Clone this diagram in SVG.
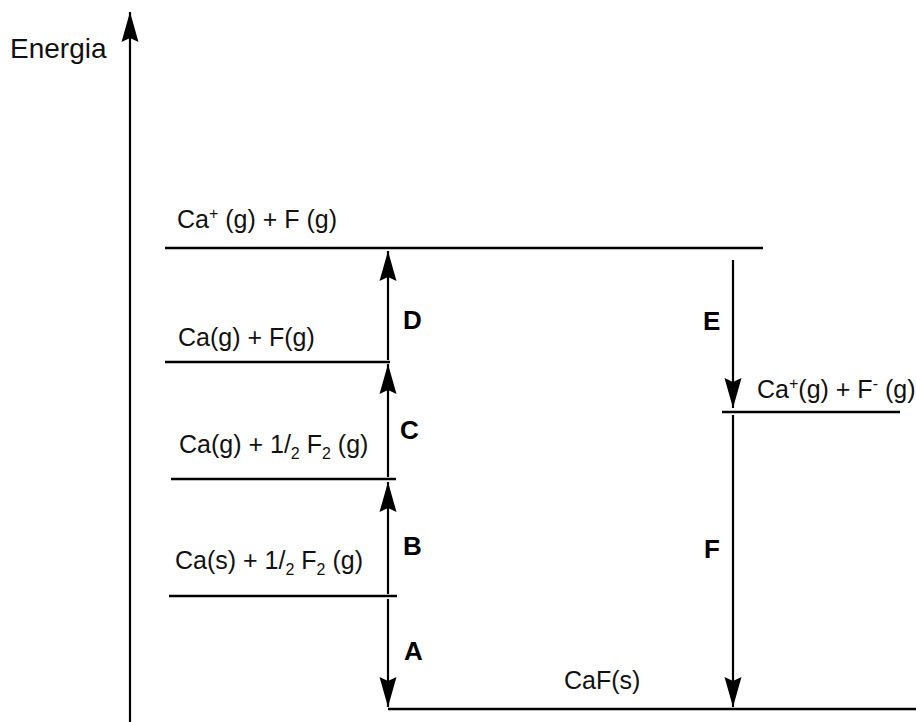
<svg xmlns="http://www.w3.org/2000/svg" width="916" height="722" viewBox="0 0 916 722">
<style>
  .lvl { stroke: #000; stroke-width: 2.6; fill: none; }
  .arr { stroke: #000; stroke-width: 2.2; fill: none; }
  .t { font-family: "Liberation Sans", Arial, sans-serif; font-size: 25px; fill: #111; }
  .b { font-family: "Liberation Sans", Arial, sans-serif; font-size: 26px; font-weight: bold; fill: #000; }
  .sm { font-size: 16px; }
</style>
<defs>
  <marker id="ah" markerUnits="userSpaceOnUse" markerWidth="32" markerHeight="20" viewBox="-31 -10 32 20" refX="0" refY="0" orient="auto">
    <path d="M0,0 L-30,-8.5 L-26,0 L-30,8.5 Z" fill="#000"/>
  </marker>
</defs>
<rect width="916" height="722" fill="#fff"/>

<g id="axis">
  <line class="arr" x1="130" y1="722" x2="130" y2="12" stroke-width="2.6" marker-end="url(#ah)"/>
  <text class="t" x="10" y="58" style="font-size:28px">Energia</text>
</g>

<g id="level-ca-plus-f">
  <line class="lvl" x1="165" y1="248" x2="763" y2="248"/>
  <text class="t" x="177" y="228">Ca<tspan class="sm" dy="-9">+</tspan><tspan dy="9"> (g) + F (g)</tspan></text>
</g>
<g id="level-ca-g-f-g">
  <line class="lvl" x1="165" y1="362" x2="390" y2="362"/>
  <text class="t" x="178" y="346">Ca(g) + F(g)</text>
</g>
<g id="level-ca-g-half-f2">
  <line class="lvl" x1="171" y1="479" x2="396" y2="479"/>
  <text class="t" x="179" y="453">Ca(g) + 1/<tspan class="sm" dy="6">2</tspan><tspan dy="-6"> F</tspan><tspan class="sm" dy="6">2</tspan><tspan dy="-6"> (g)</tspan></text>
</g>
<g id="level-ca-s-half-f2">
  <line class="lvl" x1="169" y1="596" x2="397" y2="596"/>
  <text class="t" x="175" y="569">Ca(s) + 1/<tspan class="sm" dy="6">2</tspan><tspan dy="-6"> F</tspan><tspan class="sm" dy="6">2</tspan><tspan dy="-6"> (g)</tspan></text>
</g>
<g id="level-ions">
  <line class="lvl" x1="722" y1="412" x2="900" y2="412"/>
  <text class="t" x="757" y="398">Ca<tspan class="sm" dy="-9">+</tspan><tspan dy="9">(g) + F</tspan><tspan class="sm" dy="-9">-</tspan><tspan dy="9"> (g)</tspan></text>
</g>
<g id="level-caf-s">
  <line class="lvl" x1="388" y1="709" x2="916" y2="709"/>
  <text class="t" x="564" y="689">CaF(s)</text>
</g>

<g id="connectors">
  <line class="arr" x1="388" y1="360" x2="388" y2="251" marker-end="url(#ah)"/>
  <line class="arr" x1="388" y1="477" x2="388" y2="364" marker-end="url(#ah)"/>
  <line class="arr" x1="388" y1="594" x2="388" y2="482" marker-end="url(#ah)"/>
  <line class="arr" x1="388" y1="599" x2="388" y2="707" marker-end="url(#ah)"/>
  <line class="arr" x1="733" y1="260" x2="733" y2="408" marker-end="url(#ah)"/>
  <line class="arr" x1="733" y1="415" x2="733" y2="707" marker-end="url(#ah)"/>
  <text class="b" x="403" y="329">D</text>
  <text class="b" x="400" y="439">C</text>
  <text class="b" x="403" y="555">B</text>
  <text class="b" x="404" y="660">A</text>
  <text class="b" x="703" y="330">E</text>
  <text class="b" x="704" y="558">F</text>
</g>
</svg>
